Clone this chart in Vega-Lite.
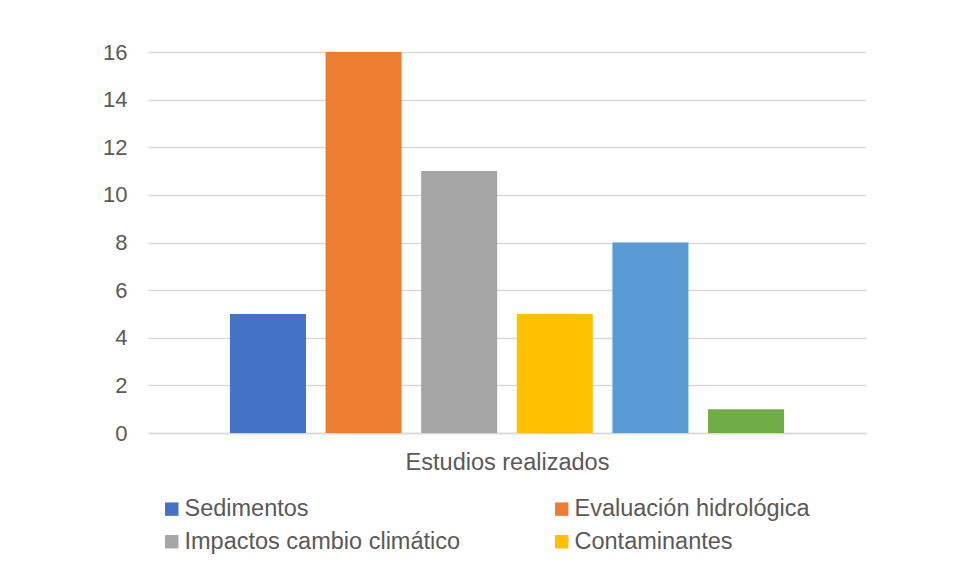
{
  "$schema": "https://vega.github.io/schema/vega-lite/v6.json",
  "autosize": {"type": "none"},
  "width": 718,
  "height": 381,
  "padding": {"left": 148, "top": 52, "right": 92, "bottom": 144},
  "background": "white",
  "data": {
    "values": [
      {"serie": "Sedimentos", "estudios": 5},
      {"serie": "Evaluación hidrológica", "estudios": 16},
      {"serie": "Impactos cambio climático", "estudios": 11},
      {"serie": "Contaminantes", "estudios": 5},
      {"serie": "Calidad del agua", "estudios": 8},
      {"serie": "Otros", "estudios": 1}
    ]
  },
  "mark": {"type": "bar"},
  "encoding": {
    "x": {
      "field": "serie",
      "type": "nominal",
      "sort": null,
      "scale": {"paddingInner": 0.205, "paddingOuter": 0.857},
      "axis": {
        "title": "Estudios realizados",
        "labels": false,
        "ticks": false,
        "domain": true,
        "domainColor": "#d9d9d9",
        "domainWidth": 1.5,
        "titleFont": "Liberation Sans",
        "titleFontSize": 23.5,
        "titleFontWeight": "normal",
        "titleColor": "#595959",
        "titlePadding": 17
      }
    },
    "y": {
      "field": "estudios",
      "type": "quantitative",
      "scale": {"domain": [0, 16], "nice": false},
      "axis": {
        "title": null,
        "values": [0, 2, 4, 6, 8, 10, 12, 14, 16],
        "ticks": false,
        "domain": false,
        "gridColor": "#d9d9d9",
        "gridWidth": 1.5,
        "labelFont": "Liberation Sans",
        "labelFontSize": 22,
        "labelColor": "#595959",
        "labelPadding": 21
      }
    },
    "color": {
      "field": "serie",
      "type": "nominal",
      "sort": null,
      "scale": {
        "domain": ["Sedimentos", "Evaluación hidrológica", "Impactos cambio climático", "Contaminantes", "Calidad del agua", "Otros"],
        "range": ["#4472C4", "#ED7D31", "#A5A5A5", "#FFC000", "#5B9BD5", "#70AD47"]
      },
      "legend": {
        "title": null,
        "orient": "none",
        "legendX": 12,
        "legendY": 445,
        "padding": 0,
        "direction": "horizontal",
        "columns": 2,
        "columnPadding": 89,
        "rowPadding": 8,
        "values": ["Sedimentos", "Evaluación hidrológica", "Impactos cambio climático", "Contaminantes"],
        "symbolType": "square",
        "symbolSize": 180,
        "symbolStrokeWidth": 0,
        "labelFont": "Liberation Sans",
        "labelFontSize": 23.5,
        "labelColor": "#595959",
        "labelOffset": 1,
        "labelLimit": 400
      }
    }
  },
  "config": {
    "view": {"stroke": null}
  }
}
